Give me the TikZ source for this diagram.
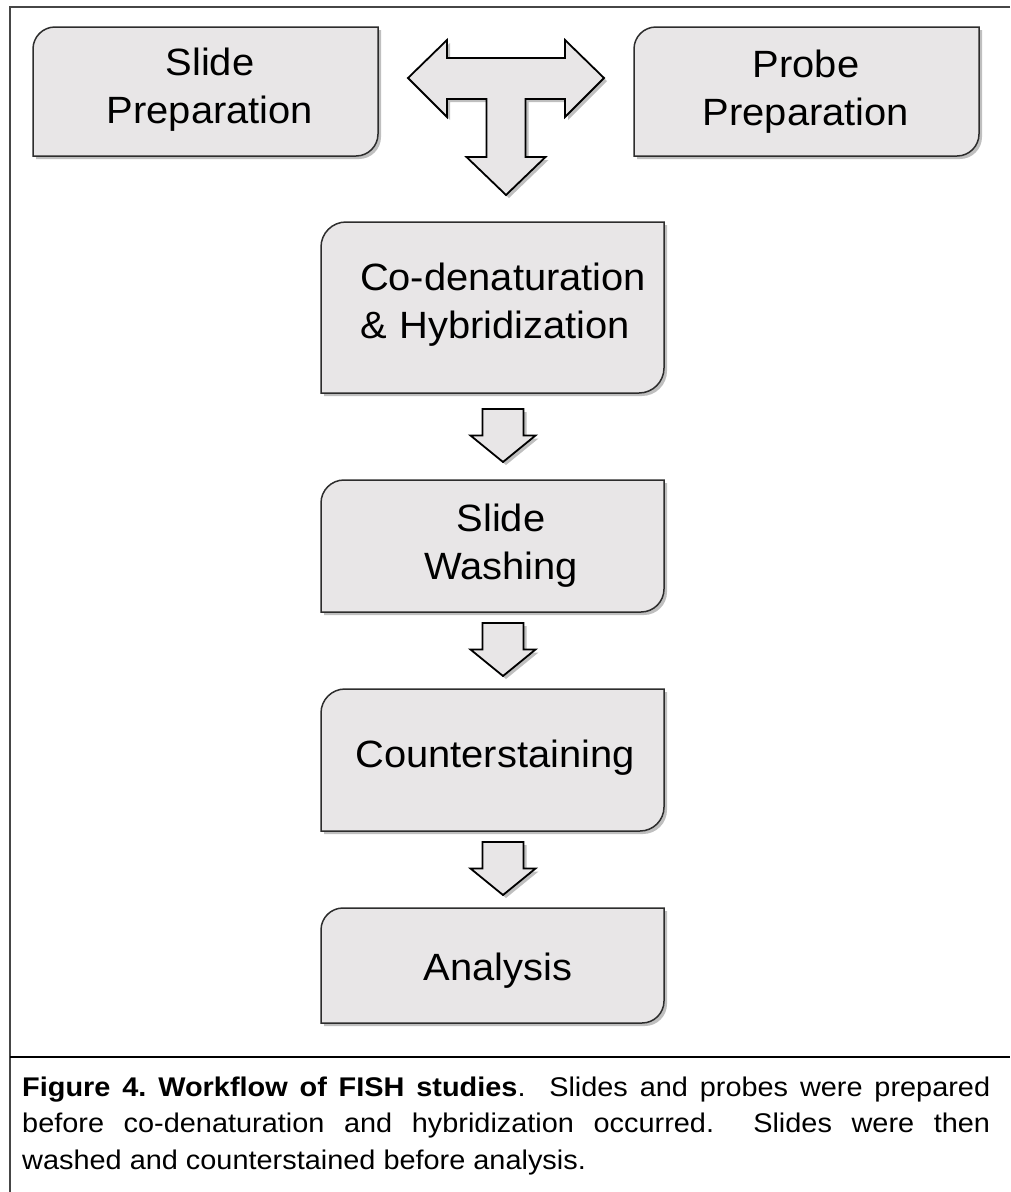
\documentclass[tikz,border=0pt]{standalone}
\usepackage{fontspec}
\setmainfont{Liberation Sans}
\newfontfamily\boxfont[FakeStretch=1.05]{Liberation Sans}
\newfontfamily\capfont[FakeStretch=1.07]{Liberation Sans}
\usetikzlibrary{shadows,calc}
\definecolor{boxfill}{RGB}{232,230,231}
\definecolor{boxline}{RGB}{45,45,45}
\definecolor{framecol}{RGB}{70,70,70}
\tikzset{
  boxnode/.style={rectangle, inner sep=0pt, outer sep=0pt, draw=none},
  softshadow/.style={drop shadow={shadow xshift=3pt, shadow yshift=-3pt, opacity=0.25, fill=black}},
  boxshape/.style={fill=boxfill, draw=boxline, line width=1.5pt, softshadow},
  arrowshape/.style={fill=boxfill, draw=black, line width=1.8pt, line join=miter, softshadow},
  boxtext/.style={font=\boxfont\fontsize{38}{48}\selectfont, inner sep=0pt, anchor=base, text=black},
  captext/.style={font=\capfont\fontsize{27}{36.5}\selectfont\frenchspacing, inner sep=0pt, text=black},
}
\newcommand{\dshape}[2]{%
  \draw[boxshape] (#1.south west) -- ([yshift=-#2pt]#1.north west)
    arc[start angle=180,end angle=90,radius=#2pt] -- (#1.north east)
    -- ([yshift=#2pt]#1.south east)
    arc[start angle=0,end angle=-90,radius=#2pt] -- cycle;}
\newcommand{\flowarrow}[3]{%
  \path let \p1=(#2.south), \p2=(#3.north) in coordinate (#1) at (\x1+10.5pt,{0.5*(\y1+\y2)+1pt});
  \draw[arrowshape, shift={(#1)}] (-20.5,26.5) -- (20.5,26.5) -- (20.5,0) -- (32.5,0)
    -- (0,-26.5) -- (-32.5,0) -- (-20.5,0) -- cycle;}
\begin{document}
\begin{tikzpicture}[x=1pt,y=1pt]
\useasboundingbox (0,0) rectangle (1010,-1192);
% frame
\draw[framecol, line width=1.5pt] (1010,-7) -- (10,-7) -- (10,-1192);
\draw[black, line width=2.5pt] (10,-1057) -- (1010,-1057);
% box nodes
\node[boxnode, minimum width=345pt, minimum height=129pt] (slideprep) at (205.5,-91.5) {};
\node[boxnode, minimum width=345pt, minimum height=129pt] (probeprep) at (806.5,-91.5) {};
\node[boxnode, minimum width=343pt, minimum height=171pt] (codenat) at (492.5,-307.5) {};
\node[boxnode, minimum width=343pt, minimum height=132pt] (washing) at (492.5,-546) {};
\node[boxnode, minimum width=343pt, minimum height=142pt] (counter) at (492.5,-760) {};
\node[boxnode, minimum width=343pt, minimum height=115pt] (analysis) at (492.5,-965.5) {};
% box shapes
\dshape{slideprep}{22}
\dshape{probeprep}{22}
\dshape{codenat}{25}
\dshape{washing}{23}
\dshape{counter}{24}
\dshape{analysis}{22}
% T arrow
\coordinate (tc) at ($(slideprep.east)!0.5!(probeprep.west)+(0,13.5)$);
\draw[arrowshape, shift={(tc)}] (-98,0) -- (-59,38) -- (-59,20) -- (59,20) -- (59,38) -- (98,0)
  -- (59,-39) -- (59,-21) -- (19.5,-21) -- (19.5,-79) -- (39.5,-79) -- (0,-117)
  -- (-39.5,-79) -- (-19.5,-79) -- (-19.5,-21) -- (-59,-21) -- (-59,-39) -- cycle;
% flow arrows
\flowarrow{a1}{codenat}{washing}
\flowarrow{a2}{washing}{counter}
\flowarrow{a3}{counter}{analysis}
% texts
\node[boxtext, text width=340pt, align=center] (slideprep-t) at (210,-75) {Slide\\Preparation};
\node[boxtext, text width=340pt, align=center] (probeprep-t) at (806,-77) {Probe\\Preparation};
\node[boxtext, text width=300pt, align=left] (codenat-t) at (510,-290) {Co-denaturation\\\&~Hybridization};
\node[boxtext, text width=340pt, align=center] (washing-t) at (501,-531) {Slide\\Washing};
\node[boxtext, text width=340pt, align=center] (counter-t) at (495,-767) {Counterstaining};
\node[boxtext, text width=340pt, align=center] (analysis-t) at (498,-980) {Analysis};
% caption
\node[captext, text width=968pt, align=justify, anchor=base west] (caption) at (22,-1096)
  {\textbf{Figure 4. Workflow of FISH studies}.\ \ Slides and probes were prepared\linebreak
   before co-denaturation and hybridization occurred.\ \ Slides were then\linebreak
   washed and counterstained before analysis.};
\end{tikzpicture}
\end{document}
